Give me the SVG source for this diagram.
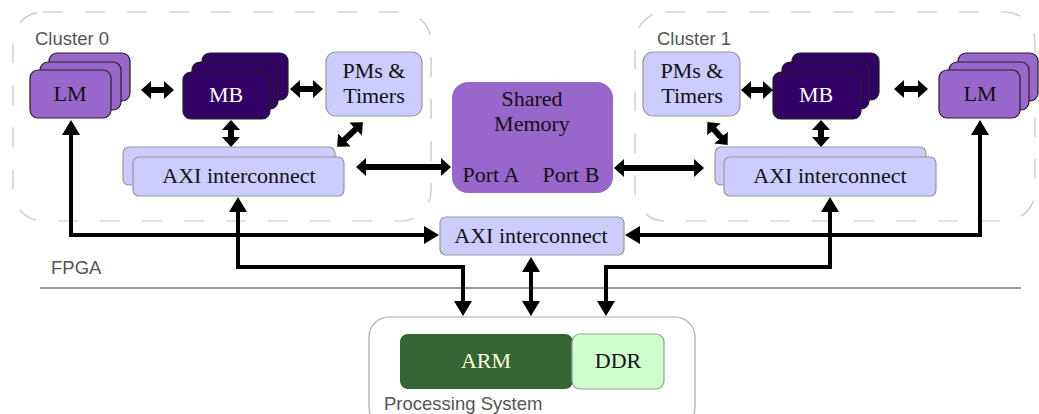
<svg xmlns="http://www.w3.org/2000/svg" width="1039" height="414" viewBox="0 0 1039 414">
<style>
.cl{fill:none;stroke:#c4c4c4;stroke-width:1.2;stroke-dasharray:20 22}
.lm{fill:#9966cc;stroke:#222;stroke-width:1.2}
.mb{fill:#330066;stroke:#222;stroke-width:1.2}
.lav{fill:#ccccff;stroke:#999;stroke-width:1.2}
.t{font-family:"Liberation Serif",serif;font-size:22px;fill:#111;text-anchor:middle}
.tw{font-family:"Liberation Serif",serif;font-size:22px;fill:#fff;text-anchor:middle}
.lbl{font-family:"Liberation Sans",Arial,sans-serif;font-size:18.5px;fill:#555}
.c{fill:none;stroke:#000;stroke-width:4;stroke-linejoin:miter;marker-end:url(#ah);marker-start:url(#ah)}
.s{fill:none;stroke:#000;stroke-width:6;marker-end:url(#sh);marker-start:url(#sh)}
</style>
<defs>
<marker id="ah" markerUnits="userSpaceOnUse" markerWidth="15" markerHeight="18" refX="11" refY="9" orient="auto-start-reverse" viewBox="0 0 15 18">
<path d="M0,0 L15,9 L0,18 z" fill="#000"/>
</marker>
<marker id="sh" markerUnits="userSpaceOnUse" markerWidth="10" markerHeight="18" refX="6" refY="9" orient="auto-start-reverse" viewBox="0 0 10 18">
<path d="M0,0 L10,9 L0,18 z" fill="#000"/>
</marker>
</defs>
<g id="cluster0"><rect class="cl" x="13" y="12" width="418" height="209" rx="30"/><text class="lbl" x="35" y="45">Cluster 0</text></g>
<g id="cluster1"><rect class="cl" x="635" y="12" width="400" height="209" rx="30"/><text class="lbl" x="657" y="45">Cluster 1</text></g>
<g id="fpga"><line x1="40" y1="288" x2="1021" y2="288" stroke="#333" stroke-width="1"/><text class="lbl" x="51" y="274">FPGA</text></g>
<g id="ps"><rect x="369" y="317" width="326" height="110" rx="20" fill="#fff" stroke="#aaa" stroke-width="1.2"/><text class="lbl" x="384" y="410">Processing System</text></g>
<g id="lm0"><rect class="lm" x="49" y="53" width="81" height="48" rx="8"/><rect class="lm" x="40" y="62" width="81" height="48" rx="8"/><rect class="lm" x="30" y="70" width="81" height="48" rx="8"/><text class="t" x="70" y="101">LM</text></g>
<g id="mb0"><rect class="mb" x="202" y="53" width="86" height="47" rx="8"/><rect class="mb" x="192" y="62" width="86" height="47" rx="8"/><rect class="mb" x="183" y="72" width="87" height="47" rx="8"/><text class="tw" x="226" y="102">MB</text></g>
<g id="pm0"><rect class="lav" x="326" y="52" width="96" height="64" rx="10"/><text class="t" x="374" y="78">PMs &amp;</text><text class="t" x="374" y="103">Timers</text></g>
<g id="axi0"><rect class="lav" x="123" y="147" width="212" height="38" rx="6"/><rect class="lav" x="133" y="157" width="211" height="39" rx="6"/><text class="t" x="239" y="183">AXI interconnect</text></g>
<g id="shared"><rect x="452" y="82" width="161" height="111" rx="16" fill="#9966cc"/><text class="t" x="532" y="106">Shared</text><text class="t" x="532" y="131">Memory</text><text class="t" x="491" y="182">Port A</text><text class="t" x="571" y="182">Port B</text></g>
<g id="pm1"><rect class="lav" x="643" y="52" width="97" height="64" rx="10"/><text class="t" x="692" y="78">PMs &amp;</text><text class="t" x="692" y="103">Timers</text></g>
<g id="mb1"><rect class="mb" x="792" y="53" width="87" height="47" rx="8"/><rect class="mb" x="782" y="62" width="87" height="47" rx="8"/><rect class="mb" x="773" y="72" width="88" height="47" rx="8"/><text class="tw" x="816" y="102">MB</text></g>
<g id="lm1"><rect class="lm" x="958" y="53" width="80" height="48" rx="8"/><rect class="lm" x="949" y="62" width="80" height="48" rx="8"/><rect class="lm" x="939" y="70" width="81" height="48" rx="8"/><text class="t" x="980" y="101">LM</text></g>
<g id="axi1"><rect class="lav" x="715" y="147" width="211" height="38" rx="6"/><rect class="lav" x="724" y="157" width="212" height="39" rx="6"/><text class="t" x="830" y="183">AXI interconnect</text></g>
<g id="axic"><rect class="lav" x="440" y="217" width="184" height="38" rx="6"/><text class="t" x="531" y="243">AXI interconnect</text></g>
<g id="arm"><rect x="400" y="334" width="173" height="55" rx="8" fill="#336633"/><text class="t" x="486" y="368" style="fill:#ffffe0">ARM</text></g>
<g id="ddr"><rect x="572" y="334" width="92" height="55" rx="8" fill="#ccffcc" stroke="#999" stroke-width="1.2"/><text class="t" x="618" y="368">DDR</text></g>
<g id="connectors">
<path class="s" d="M145,90 H170"/>
<path class="s" d="M294,89 H319"/>
<path class="s" d="M231,124 V143"/>
<path class="s" d="M360,125 L340,144"/>
<path class="s" d="M360,167 H447"/>
<path class="s" d="M618,168 H700"/>
<path class="s" d="M745,90 H769"/>
<path class="s" d="M898,89 H924"/>
<path class="s" d="M821,124 V143"/>
<path class="s" d="M710,125 L725,142"/>
<path class="c" d="M71,124 V235 H435"/>
<path class="c" d="M238,201 V267 H463 V312"/>
<path class="c" d="M531,261 V312"/>
<path class="c" d="M830,201 V267 H606 V312"/>
<path class="c" d="M980,124 V235 H629"/>
</g>
</svg>
